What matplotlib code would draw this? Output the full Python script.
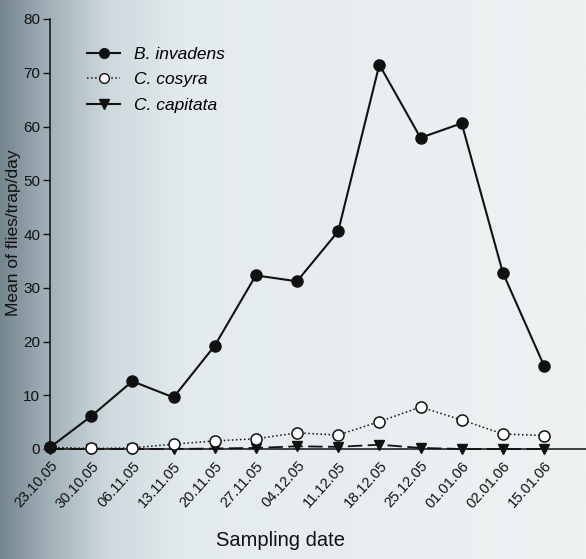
import numpy as np
import matplotlib
matplotlib.use("Agg")
import matplotlib.pyplot as plt
from matplotlib.lines import Line2D
from matplotlib.colors import LinearSegmentedColormap

dates = ["23.10.05", "30.10.05", "06.11.05", "13.11.05", "20.11.05", "27.11.05",
         "04.12.05", "11.12.05", "18.12.05", "25.12.05", "01.01.06", "02.01.06", "15.01.06"]
b_invadens = [0.3, 6.1, 12.6, 9.6, 19.2, 32.3, 31.2, 40.5, 71.5, 57.9, 60.6, 32.8, 15.5]
c_cosyra = [0.3, 0.1, 0.2, 0.9, 1.5, 1.9, 3.0, 2.6, 5.1, 7.8, 5.4, 2.8, 2.5]
c_capitata = [0.0, 0.0, 0.0, 0.0, 0.1, 0.2, 0.5, 0.4, 0.8, 0.2, 0.0, 0.0, 0.0]
y_ticks = [0, 10, 20, 30, 40, 50, 60, 70, 80]

regular = ['Liberation Sans', 'DejaVu Sans']
plt.rcParams['font.family'] = regular

fig = plt.figure(figsize=(5.86, 5.59), dpi=100)

# scanned-page background gradient
bg = fig.add_axes([0, 0, 1, 1], zorder=-10)
cmap = LinearSegmentedColormap.from_list(
    "scan", [(0.0, "#76868f"), (0.07, "#9dacb4"), (0.18, "#cdd8dd"),
             (0.32, "#e4ebee"), (1.0, "#eef2f3")])
grad = np.linspace(0, 1, 400)[None, :]
bg.imshow(grad, aspect='auto', cmap=cmap, extent=[0, 1, 0, 1])
bg.axis('off')

ax = fig.add_axes([50/586, 1 - 449/559, (586-50)/586, (449-19)/559])
ax.patch.set_alpha(0)
x = np.arange(len(dates))

ax.plot(x, c_capitata, color='#111111', lw=1.3, dashes=(8, 3), marker='v',
        ms=7.5, mfc='#111111', mec='#111111', clip_on=False, zorder=3)
ax.plot(x, c_cosyra, color='#111111', lw=1.1, ls=':', marker='o', ms=8,
        mfc='white', mec='#111111', mew=1.1, clip_on=False, zorder=4)
ax.plot(x, b_invadens, color='#111111', lw=1.5, ls='-', marker='o', ms=8,
        mfc='#111111', mec='#111111', clip_on=False, zorder=5)

ax.set_xlim(0, 13.02)
ax.set_ylim(0, 80)
ax.set_yticks(y_ticks)
ax.set_yticklabels([str(v) for v in y_ticks], fontsize=11)
ax.set_xticks(x)
ax.set_xticklabels(dates, rotation=48, ha='right', rotation_mode='anchor', fontsize=10.5)
ax.tick_params(axis='x', length=0, pad=7, colors='#111111')
ax.tick_params(axis='y', length=5, width=1, pad=2, colors='#111111')
for s in ['top', 'right']:
    ax.spines[s].set_visible(False)
for s in ['left', 'bottom']:
    ax.spines[s].set_linewidth(1.1)
    ax.spines[s].set_color('#111111')

fig.text(14/586, 1 - 233/559, "Mean of flies/trap/day", rotation=90, ha='center', va='center',
         fontsize=12.5, color='#111111')
fig.text(281/586, 1 - 541/559, "Sampling date", ha='center', va='center',
         fontsize=14.5, color='#111111')

handles = [
    Line2D([], [], color='#111111', lw=1.5, marker='o', ms=7, mfc='#111111'),
    Line2D([], [], color='#111111', lw=1.1, ls=':', marker='o', ms=7, mfc='white'),
    Line2D([], [], color='#111111', lw=1.5, marker='v', ms=7, mfc='#111111'),
]
leg = ax.legend(handles, ["B. invadens", "C. cosyra", "C. capitata"],
                loc='upper left', bbox_to_anchor=(0.04, 0.972), frameon=False,
                handlelength=1.9, handletextpad=0.8, labelspacing=0.6,
                prop={'style': 'italic', 'size': 12.5})

fig.savefig("out.png", dpi=100)
